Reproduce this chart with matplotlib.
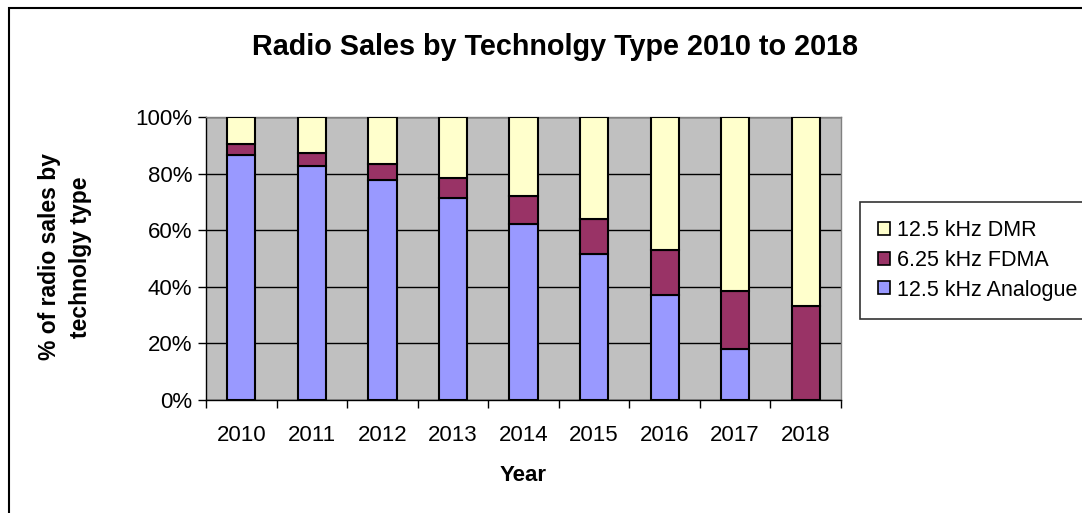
import matplotlib
matplotlib.use('Agg')
import matplotlib.pyplot as plt
from matplotlib.patches import Rectangle, Patch
import numpy as np

plt.rcParams['font.family'] = ['Liberation Sans', 'DejaVu Sans']

# data (percent of sales)
years = ['2010', '2011', '2012', '2013', '2014', '2015', '2016', '2017', '2018']
analogue = [86.6, 82.7, 77.7, 71.4, 62.3, 51.6, 37.2, 18.1, 0.0]
fdma = [3.8, 4.5, 5.8, 7.0, 9.7, 12.3, 15.8, 20.3, 33.3]
dmr = [100 - a - f for a, f in zip(analogue, fdma)]

series_names = ['12.5 kHz Analogue', '6.25 kHz FDMA', '12.5 kHz DMR']
colors = ['#9999FF', '#993366', '#FFFFCC']

W, H = 1082, 513
fig = plt.figure(figsize=(W / 100, H / 100), dpi=100)
ax = fig.add_axes([206 / W, 1 - 400 / H, (841 - 206) / W, (400 - 117) / H])
ax.set_facecolor('#C0C0C0')

x = np.arange(len(years))
bottom = np.zeros(len(years))
for vals, col in zip([analogue, fdma, dmr], colors):
    ax.bar(x, vals, width=0.4, bottom=bottom, color=col, edgecolor='black',
           linewidth=1.5, zorder=3)
    bottom += np.array(vals)

ax.set_xlim(-0.5, len(years) - 0.5)
ax.set_ylim(0, 100)
ax.set_yticks(np.arange(0, 101, 20))
ax.set_yticklabels([f'{v}%' for v in range(0, 101, 20)])
ax.yaxis.grid(True, color='black', linewidth=1.0, zorder=1)
ax.set_axisbelow(True)

ax.set_xticks(x)
ax.set_xticklabels(years)
ax.set_xticks(np.arange(-0.5, len(years)), minor=True)
ax.tick_params(axis='x', which='major', length=0, labelsize=16, pad=18)
ax.tick_params(axis='x', which='minor', length=6, width=1, direction='out')
ax.tick_params(axis='y', length=6, width=1, labelsize=16, pad=4)

for side in ['left', 'bottom']:
    ax.spines[side].set_color('black')
    ax.spines[side].set_linewidth(1.0)
for side in ['top', 'right']:
    ax.spines[side].set_color('#808080')
    ax.spines[side].set_linewidth(1.0)

ax.set_xlabel('Year', fontsize=16, fontweight='bold', labelpad=14)
fig.text(65 / W, 1 - 257 / H, '% of radio sales by\ntechnolgy type', rotation=90,
         ha='center', va='center', fontsize=16.5, fontweight='bold',
         multialignment='center', linespacing=1.45)

fig.text(555 / W, 1 - 47 / H, 'Radio Sales by Technolgy Type 2010 to 2018',
         ha='center', va='center', fontsize=20.7, fontweight='bold')

# legend, reversed order like the original
handles = [Patch(facecolor=c, edgecolor='black', linewidth=1.2) for c in colors]
leg = fig.legend(handles[::-1], series_names[::-1], loc='upper left',
                 bbox_to_anchor=(860 / W, 1 - 202 / H), bbox_transform=fig.transFigure,
                 borderaxespad=0, fontsize=15.5, frameon=True, fancybox=False,
                 edgecolor='black', handlelength=0.55, handleheight=0.55,
                 handletextpad=0.3, labelspacing=0.4, borderpad=0.85)
leg.get_frame().set_linewidth(1.2)

# outer chart border
fig.patches.append(Rectangle((9 / W, -0.1), 1.2, 1 - 8 / H + 0.1,
                             transform=fig.transFigure, fill=False,
                             edgecolor='black', linewidth=1.5))

fig.savefig('out.png', dpi=100)
